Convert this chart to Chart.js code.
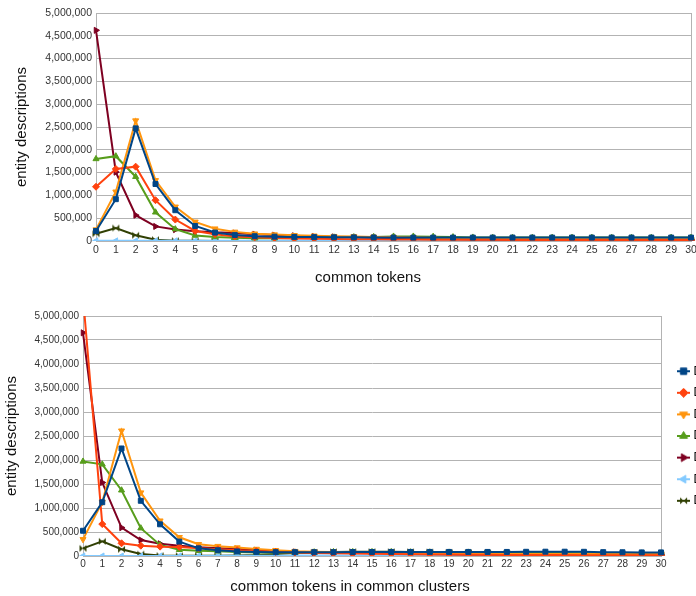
<!DOCTYPE html>
<html>
<head>
<meta charset="utf-8">
<script src="https://cdn.jsdelivr.net/npm/chart.js@4.4.1/dist/chart.umd.min.js"></script>
<style>
  html, body { margin: 0; padding: 0; background: #fff; overflow: hidden; width: 696px; height: 596px; }
  canvas { position: absolute; left: 0; }
  #topChart { top: 0; }
  #bottomChart { top: 296px; }
</style>
</head>
<body>
<canvas id="topChart" width="696" height="290"></canvas>
<canvas id="bottomChart" width="696" height="300"></canvas>
<script>
// x categories shared by both panels
const xLabels = ['0','1','2','3','4','5','6','7','8','9','10','11','12','13','14','15',
  '16','17','18','19','20','21','22','23','24','25','26','27','28','29','30'];
const seriesLabels = ['D1', 'D2', 'D3', 'D4', 'D5', 'D6', 'D7'];

// top panel: common tokens
const tokensD1 = [220000, 917000, 2470000, 1250000, 675000, 330000, 185000, 130000, 105000, 95000, 90000, 85000, 82000, 80000, 78000, 76000, 75000, 75000, 75000, 75000, 75000, 75000, 75000, 75000, 75000, 75000, 75000, 75000, 75000, 75000, 75000];
const tokensD2 = [1190000, 1580000, 1630000, 895000, 470000, 220000, 150000, 100000, 80000, 65000, 55000, 50000, 45000, 40000, 38000, 35000, 33000, 30000, 28000, 26000, 25000, 24000, 23000, 22000, 21000, 20000, 20000, 20000, 20000, 20000, 20000];
const tokensD3 = [250000, 1080000, 2640000, 1330000, 750000, 420000, 270000, 200000, 160000, 140000, 125000, 115000, 105000, 100000, 90000, 85000, 75000, 70000, 60000, 55000, 50000, 48000, 46000, 45000, 44000, 42000, 42000, 40000, 40000, 40000, 40000];
const tokensD4 = [1800000, 1860000, 1410000, 630000, 260000, 120000, 90000, 70000, 60000, 60000, 65000, 70000, 80000, 85000, 90000, 100000, 100000, 95000, 85000, 78000, 75000, 75000, 75000, 75000, 75000, 75000, 75000, 75000, 75000, 75000, 75000];
const tokensD5 = [4620000, 1510000, 565000, 320000, 250000, 215000, 190000, 175000, 150000, 130000, 115000, 100000, 90000, 80000, 70000, 60000, 55000, 50000, 45000, 35000, 32000, 30000, 30000, 28000, 28000, 27000, 26000, 26000, 25000, 25000, 25000];
const tokensD6 = [3000, 3000, 3000, 3000, 3000, 3000, 3000, 3000, 3000, 3000, 3000, 3000, 3000, 3000, 3000, 3000, 3000, 3000, 3000, 3000, 3000, 3000, 3000, 3000, 3000, 3000, 3000, 3000, 3000, 3000, 3000];
const tokensD7 = [160000, 285000, 125000, 30000, 6000, 3000, 2000, 2000, 2000, 2000, 2000, 2000, 2000, 2000, 2000, 2000, 2000, 2000, 2000, 2000, 2000, 2000, 2000, 2000, 2000, 2000, 2000, 2000, 2000, 2000, 2000];

// bottom panel: common tokens in common clusters
const clustersD1 = [526000, 1120000, 2240000, 1150000, 660000, 300000, 160000, 120000, 95000, 85000, 80000, 80000, 80000, 80000, 82000, 84000, 85000, 85000, 85000, 85000, 85000, 85000, 85000, 88000, 90000, 90000, 88000, 80000, 78000, 75000, 75000];
const clustersD2 = [5400000, 665000, 265000, 215000, 195000, 190000, 160000, 140000, 120000, 100000, 85000, 75000, 65000, 55000, 50000, 45000, 40000, 35000, 32000, 30000, 28000, 25000, 22000, 20000, 20000, 20000, 18000, 18000, 18000, 18000, 18000];
const clustersD3 = [347000, 1120000, 2610000, 1320000, 735000, 390000, 245000, 205000, 175000, 145000, 120000, 100000, 90000, 85000, 80000, 75000, 70000, 65000, 60000, 55000, 50000, 48000, 45000, 42000, 40000, 40000, 40000, 40000, 40000, 40000, 40000];
const clustersD4 = [1970000, 1910000, 1370000, 580000, 230000, 130000, 110000, 100000, 85000, 75000, 75000, 75000, 80000, 85000, 85000, 85000, 85000, 80000, 78000, 75000, 75000, 72000, 70000, 65000, 62000, 60000, 58000, 55000, 55000, 55000, 55000];
const clustersD5 = [4650000, 1530000, 590000, 333000, 255000, 215000, 180000, 160000, 145000, 120000, 100000, 85000, 75000, 70000, 65000, 60000, 55000, 45000, 40000, 35000, 32000, 30000, 28000, 26000, 25000, 25000, 25000, 25000, 25000, 25000, 25000];
const clustersD6 = [0, 0, 0, 0, 0, 1000, 2000, 3000, 4000, 5000, 6000, 8000, 10000, 10000, 10000, 10000, 10000, 10000, 10000, 10000, 10000, 10000, 10000, 10000, 10000, 10000, 10000, 10000, 10000, 10000, 10000];
const clustersD7 = [160000, 305000, 140000, 40000, 8000, 5000, 5000, 5000, 10000, 20000, 40000, 60000, 75000, 85000, 90000, 90000, 88000, 85000, 80000, 75000, 70000, 60000, 50000, 40000, 30000, 25000, 20000, 20000, 20000, 20000, 20000];

const COLORS = ['#004586', '#ff420e', '#ff950e', '#579d1c', '#7e0021', '#83caff', '#314004'];
const GRID = '#b3b3b3';
const TICK = '#333333';
const INK = '#111111';

Chart.defaults.font.family = '"Liberation Sans", Arial, sans-serif';
Chart.defaults.animation = false;

// bowtie marker (two triangles meeting in the middle)
function bowtie(color, r, w, h, withLine) {
  const c = document.createElement('canvas');
  c.width = w; c.height = h;
  const ctx = c.getContext('2d');
  const cx = w / 2, cy = h / 2;
  if (withLine) {
    ctx.strokeStyle = color; ctx.lineWidth = 2;
    ctx.beginPath(); ctx.moveTo(0, cy); ctx.lineTo(w, cy); ctx.stroke();
  }
  ctx.fillStyle = color;
  ctx.beginPath();
  ctx.moveTo(cx - r, cy - r); ctx.lineTo(cx, cy); ctx.lineTo(cx - r, cy + r); ctx.closePath();
  ctx.moveTo(cx + r, cy - r); ctx.lineTo(cx, cy); ctx.lineTo(cx + r, cy + r); ctx.closePath();
  ctx.fill();
  return c;
}

const MARKERS = ['rect', 'rectRot', 'triangle', 'triangle', 'triangle', 'triangle', null];
const ROTATIONS = [0, 0, 180, 0, 90, -90, 0];

function pointStyleFor(i) {
  return MARKERS[i] || bowtie(COLORS[i], 3.5, 9, 9, false);
}

// legend icon: short line with the marker in the middle
function legendIcon(i) {
  if (!MARKERS[i]) return bowtie(COLORS[i], 3.5, 13, 10, true);
  const c = document.createElement('canvas');
  c.width = 13; c.height = 10;
  const ctx = c.getContext('2d');
  ctx.strokeStyle = COLORS[i]; ctx.fillStyle = COLORS[i]; ctx.lineWidth = 2;
  ctx.beginPath(); ctx.moveTo(0, 5); ctx.lineTo(13, 5); ctx.stroke();
  ctx.lineWidth = 1;
  Chart.helpers.drawPoint(ctx, { pointStyle: MARKERS[i], rotation: ROTATIONS[i], radius: 4.5, borderWidth: 1 }, 6.5, 5);
  return c;
}

function buildDatasets(seriesList) {
  return seriesList.map((data, i) => ({
    label: seriesLabels[i],
    data,
    borderColor: COLORS[i],
    backgroundColor: COLORS[i],
    pointBackgroundColor: COLORS[i],
    pointBorderColor: COLORS[i],
    pointStyle: pointStyleFor(i),
    pointRotation: ROTATIONS[i],
    pointRadius: 3.5,
    pointBorderWidth: 1,
    borderWidth: 2,
    tension: 0,
  }));
}

const fmt = (v) => Number(v).toLocaleString('en-US');

function panelOptions(cfg) {
  return {
    responsive: false,
    layout: { padding: { left: cfg.padLeft, right: 0, top: cfg.padTop, bottom: 0 } },
    plugins: {
      legend: cfg.legend,
      tooltip: { enabled: false },
      subtitle: {
        display: true, position: 'bottom', text: cfg.xTitle, color: INK,
        font: { size: 15 }, padding: cfg.xTitlePad,
      },
    },
    scales: {
      x: {
        type: 'category', offset: false,
        grid: { display: false, drawTicks: false },
        border: { color: GRID },
        ticks: { padding: cfg.xTickPad, autoSkip: false, maxRotation: 0, color: TICK, font: { size: cfg.tickSize } },
        afterFit: (s) => { s.height = cfg.xHeight; s.paddingLeft = 0; s.paddingRight = 0; },
      },
      y: {
        min: 0, max: 5000000,
        grid: { color: GRID, drawTicks: false },
        border: { color: GRID },
        ticks: { stepSize: 500000, padding: 4, color: TICK, font: { size: cfg.tickSize }, callback: fmt },
        title: { display: true, text: 'entity descriptions', color: INK, font: { size: 15 }, padding: { top: cfg.yTitlePad, bottom: 0 } },
        afterFit: (s) => { s.width = cfg.yWidth; s.paddingTop = 0; s.paddingBottom = 0; },
      },
      yR: {
        position: 'right', min: 0, max: 5000000,
        grid: { display: false, drawTicks: false },
        border: { color: GRID },
        ticks: { display: false },
        afterFit: (s) => { s.width = cfg.rWidth; s.paddingTop = 0; s.paddingBottom = 0; },
      },
    },
  };
}

new Chart(document.getElementById('topChart'), {
  type: 'line',
  data: { labels: xLabels, datasets: buildDatasets([tokensD1, tokensD2, tokensD3, tokensD4, tokensD5, tokensD6, tokensD7]) },
  options: panelOptions({
    padLeft: 40, padTop: 13, yWidth: 56, yTitlePad: -27, rWidth: 5,
    xHeight: 19, xTickPad: 3, tickSize: 10.5,
    xTitle: 'common tokens', xTitlePad: { top: 9, bottom: 3 },
    legend: { display: false },
  }),
});

new Chart(document.getElementById('bottomChart'), {
  type: 'line',
  data: { labels: xLabels, datasets: buildDatasets([clustersD1, clustersD2, clustersD3, clustersD4, clustersD5, clustersD6, clustersD7]) },
  options: panelOptions({
    padLeft: 4, padTop: 20, yWidth: 79, yTitlePad: -1, rWidth: 9,
    xHeight: 17, xTickPad: 2, tickSize: 10,
    xTitle: 'common tokens in common clusters', xTitlePad: { top: 5, bottom: 0 },
    legend: {
      display: true, position: 'right', fullSize: false, maxWidth: 26,
      labels: {
        usePointStyle: true, pointStyleWidth: 8, padding: 9.6, color: '#000',
        font: { size: 12 },
        generateLabels: (chart) => Chart.defaults.plugins.legend.labels.generateLabels(chart)
          .map((item, i) => Object.assign(item, { pointStyle: legendIcon(i), rotation: 0 })),
      },
    },
  }),
});
</script>
</body>
</html>
